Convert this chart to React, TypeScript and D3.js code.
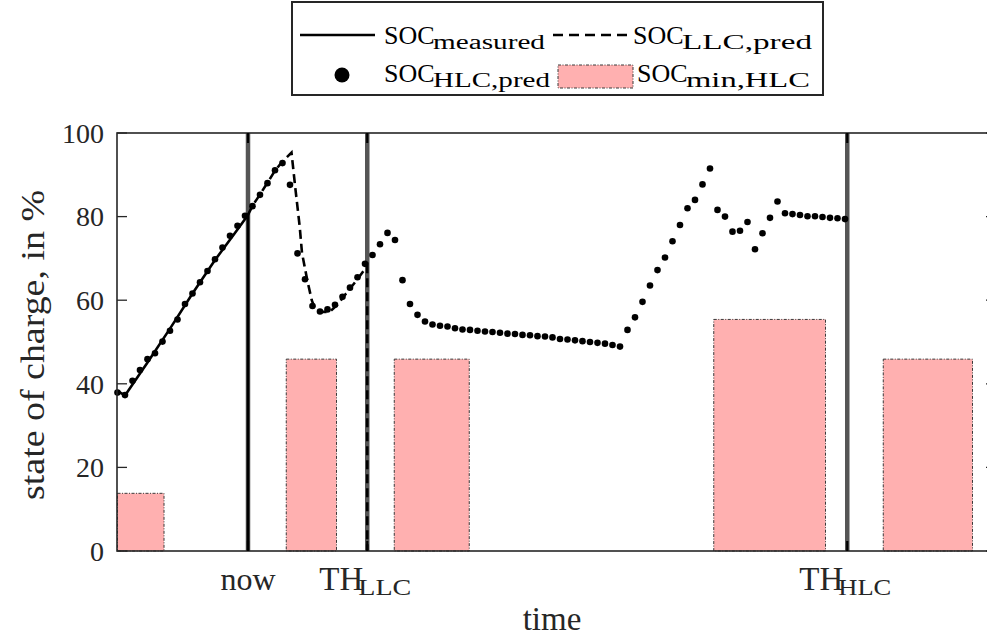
import React from "react";
import * as d3 from "d3";

// ---------- data ----------
const yTicks = [0, 20, 40, 60, 80, 100];
const markerTimes = [17.4, 33.3, 97.3];
const markerMain = ["now", "TH", "TH"];
const markerSub = ["", "LLC", "HLC"];

const measuredTime = [0, 1, 4, 7, 10, 13, 16, 17.4, 17.4];
const measuredValue = [38.3, 37.2, 45.1, 53.2, 61.6, 69.6, 76.9, 80.4, 0];

const llcTime = [17.4, 18, 19, 20, 21, 22, 23.2, 23.7, 24.3, 24.6, 25.3, 25.9, 26.3, 27, 28.3, 29.3, 30.3, 31.9, 33.3, 33.3];
const llcValue = [80.4, 82.6, 85.3, 88.1, 91.0, 93.2, 95.3, 87.0, 77.5, 71.3, 64.8, 60.0, 58.1, 57.2, 57.2, 58.9, 61.2, 64.8, 68.2, 0];

const hlcValue = [
  37.9, 37.3, 40.7, 43.3, 45.9, 47.3, 50.1, 52.7, 55.4, 59.1,
  61.6, 64.3, 67.0, 69.8, 72.6, 75.4, 77.8, 80.2, 82.5, 85.2,
  88.0, 91.1, 92.8, 87.6, 71.2, 65.0, 58.6, 57.3, 57.8, 58.9,
  60.8, 63.0, 65.5, 68.7, 70.8, 73.4, 76.1, 74.4, 64.8, 59.1,
  56.5, 54.9, 54.2, 53.9, 53.7, 53.3, 53.0, 52.9, 52.7, 52.5,
  52.4, 52.2, 52.0, 51.9, 51.7, 51.6, 51.4, 51.3, 51.1, 50.7,
  50.6, 50.4, 50.2, 50.0, 49.8, 49.6, 49.3, 48.9, 52.9, 55.9,
  59.6, 63.5, 67.2, 70.2, 74.1, 78.0, 82.0, 84.0, 87.7, 91.5,
  81.6, 80.0, 76.4, 76.6, 78.7, 72.2, 76.0, 79.7, 83.6, 80.8,
  80.6, 80.4, 80.1, 80.1, 79.9, 79.7, 79.6, 79.4,
];

const barStart = [0, 22.5, 36.9, 79.5, 102.1];
const barEnd = [6.2, 29.2, 46.9, 94.4, 114.0];
const barValue = [13.8, 45.9, 45.9, 55.4, 45.9];

// ---------- layout ----------
const W = 987;
const H = 639;
const L = 117, R = 996, T = 133, B = 551;
const FONT = "Liberation Serif, Times New Roman, serif";
const TXT = "#262626";

export default function App() {
  const x = d3.scaleLinear().domain([0, 117]).range([117.5, 995]);
  const y = d3.scaleLinear().domain([0, 100]).range([B, T]);

  const line = d3
    .line<[number, number]>()
    .x((d) => x(d[0]))
    .y((d) => y(d[1]));

  const measuredPts = measuredTime.map((t, i) => [t, measuredValue[i]] as [number, number]);
  const llcPts = llcTime.map((t, i) => [t, llcValue[i]] as [number, number]);

  const ts = { fontFamily: FONT };

  return (
    <svg
      width={W}
      height={H}
      style={{ position: "absolute", left: 0, top: 0, background: "#fff", fontFamily: FONT }}
    >
      <rect x={0} y={0} width={W} height={H} fill="#fff" />
      {/* bars */}
      {barValue.map((v, i) => (
        <rect
          key={"bar" + i}
          x={x(barStart[i])}
          y={y(v)}
          width={x(barEnd[i]) - x(barStart[i])}
          height={y(0) - y(v)}
          fill="#ffb0b0"
          stroke="#3a3a3a"
          strokeWidth={1}
          strokeDasharray="3 1.5 1 1.5"
        />
      ))}
      {/* vertical marker lines */}
      {markerTimes.map((t, i) => (
        <line key={"vm" + i} x1={x(t)} x2={x(t)} y1={T} y2={B} stroke="#555" strokeWidth={4.5} />
      ))}
      {/* measured */}
      <path d={line(measuredPts) || ""} fill="none" stroke="#000" strokeWidth={2.6} />
      {/* LLC prediction */}
      <path d={line(llcPts) || ""} fill="none" stroke="#000" strokeWidth={2.6} strokeDasharray="9 5" />
      {/* HLC prediction dots */}
      {hlcValue.map((v, i) => (
        <circle key={"d" + i} cx={x(i)} cy={y(v)} r={3.3} fill="#000" />
      ))}
      {/* axes box */}
      <rect x={L} y={T} width={R - L} height={B - T} fill="none" stroke={TXT} strokeWidth={1.6} />
      {/* y ticks */}
      {yTicks.map((v) => (
        <g key={"yt" + v}>
          <line x1={L} x2={L + 10} y1={y(v)} y2={y(v)} stroke={TXT} strokeWidth={1.3} />
          <line x1={R - 10} x2={R} y1={y(v)} y2={y(v)} stroke={TXT} strokeWidth={1.3} />
          <text style={ts} x={104} y={y(v)} dy="0.35em" textAnchor="end" fontSize={28} fill={TXT}>
            {v}
          </text>
        </g>
      ))}
      {/* x ticks */}
      {markerTimes.map((t, i) => (
        <g key={"xt" + i}>
          <line x1={x(t)} x2={x(t)} y1={B - 10} y2={B} stroke="#000" strokeWidth={2.2} />
          <line x1={x(t)} x2={x(t)} y1={T} y2={T + 10} stroke="#000" strokeWidth={2.2} />
          {markerSub[i] === "" ? (
            <text style={ts} x={x(t)} y={590} textAnchor="middle" fontSize={32} fill={TXT}>
              {markerMain[i]}
            </text>
          ) : (
            <g>
              <text style={ts} x={x(t) - 48} y={590} fontSize={33} fill={TXT}>
                {markerMain[i]}
              </text>
              <text
                style={ts}
                x={x(t) - 9}
                y={595}
                fontSize={24}
                fill={TXT}
                textLength={53}
                lengthAdjust="spacingAndGlyphs"
              >
                {markerSub[i]}
              </text>
            </g>
          )}
        </g>
      ))}
      {/* axis labels */}
      <text style={ts} x={552} y={630} textAnchor="middle" fontSize={33} fill={TXT}>
        time
      </text>
      <text
        style={ts}
        transform="translate(44,345) rotate(-90)"
        textAnchor="middle"
        fontSize={34}
        fill={TXT}
        textLength={310}
        lengthAdjust="spacingAndGlyphs"
      >
        state of charge, in %
      </text>
      {/* legend */}
      <g>
        <rect x={292} y={2} width={531} height={93} fill="#fff" stroke={TXT} strokeWidth={2} />
        <line x1={300} x2={375} y1={35} y2={35} stroke="#000" strokeWidth={2.6} />
        <line x1={553} x2={630} y1={35} y2={35} stroke="#000" strokeWidth={2.6} strokeDasharray="10 6" />
        <circle cx={342} cy={75} r={7.5} fill="#000" />
        <rect
          x={558}
          y={65}
          width={75}
          height={23}
          fill="#ffb0b0"
          stroke="#3a3a3a"
          strokeWidth={1}
          strokeDasharray="3 1.5 1 1.5"
        />
        <text style={ts} x={384} y={44} fontSize={26} fill="#000">SOC</text>
        <text style={ts} x={433} y={49} fontSize={20} fill="#000" textLength={112} lengthAdjust="spacingAndGlyphs">measured</text>
        <text style={ts} x={633} y={44} fontSize={26} fill="#000">SOC</text>
        <text style={ts} x={682} y={49} fontSize={20} fill="#000" textLength={130} lengthAdjust="spacingAndGlyphs">LLC,pred</text>
        <text style={ts} x={384} y={82} fontSize={26} fill="#000">SOC</text>
        <text style={ts} x={433} y={87} fontSize={20} fill="#000" textLength={117} lengthAdjust="spacingAndGlyphs">HLC,pred</text>
        <text style={ts} x={637} y={82} fontSize={26} fill="#000">SOC</text>
        <text style={ts} x={686} y={87} fontSize={20} fill="#000" textLength={124} lengthAdjust="spacingAndGlyphs">min,HLC</text>
      </g>
    </svg>
  );
}
